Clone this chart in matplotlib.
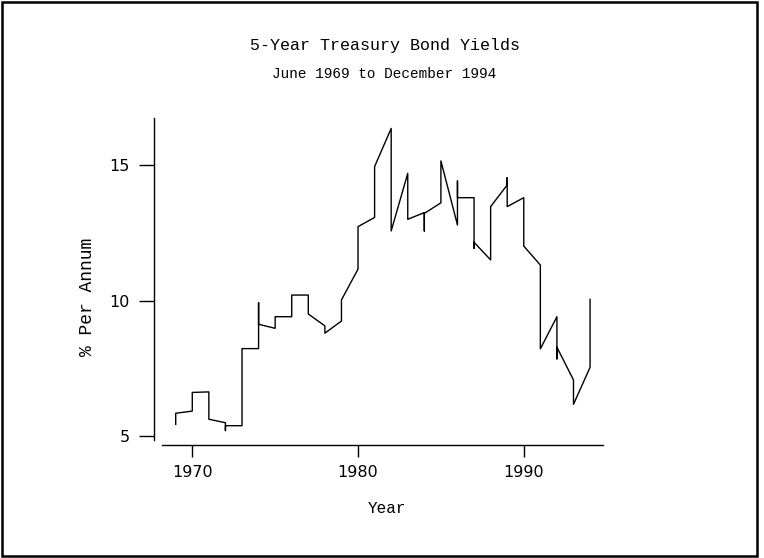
import matplotlib
matplotlib.use("Agg")
import matplotlib.pyplot as plt
from matplotlib.patches import Rectangle

# 5-year treasury yields, several readings per year (first, extremes, last)
years = [1969, 1969,
         1970, 1970,
         1971, 1971,
         1972, 1972, 1972,
         1973, 1973,
         1974, 1974, 1974,
         1975, 1975,
         1976, 1976,
         1977, 1977,
         1978, 1978,
         1979, 1979,
         1980, 1980,
         1981, 1981,
         1982, 1982,
         1983, 1983,
         1984, 1984, 1984,
         1985, 1985,
         1986, 1986, 1986,
         1987, 1987, 1987,
         1988, 1988,
         1989, 1989, 1989,
         1990, 1990,
         1991, 1991,
         1992, 1992, 1992,
         1993, 1993,
         1994, 1994]
yields = [5.43, 5.84,
          5.92, 6.61,
          6.63, 5.62,
          5.49, 5.20, 5.38,
          5.38, 8.23,
          8.23, 9.93, 9.13,
          8.98, 9.41,
          9.41, 10.21,
          10.21, 9.51,
          9.07, 8.80,
          9.25, 10.03,
          11.17, 12.74,
          13.08, 14.96,
          16.37, 12.58,
          14.71, 13.01,
          13.26, 12.58, 13.23,
          13.62, 15.17,
          12.80, 14.43, 13.81,
          13.81, 11.94, 12.16,
          11.51, 13.48,
          14.28, 14.55, 13.48,
          13.81, 12.02,
          11.32, 8.22,
          9.41, 7.85, 8.28,
          7.07, 6.17,
          7.54, 10.05]

x_ticks = [1970, 1980, 1990]
y_ticks = [5, 10, 15]

fig = plt.figure(figsize=(7.64, 5.58), dpi=100)
ax = fig.add_axes([0.2020, 0.2115, 0.5877, 0.5765])

ax.plot(years, yields, color="black", lw=1.0)

ax.set_xlim(1967.71, 1994.80)
ax.set_ylim(4.852, 16.745)

for s in ["top", "right"]:
    ax.spines[s].set_visible(False)
ax.spines["bottom"].set_position(("outward", 3.4))
ax.spines["bottom"].set_bounds(1968.17, 1994.80)
ax.spines["left"].set_linewidth(1.0)
ax.spines["bottom"].set_linewidth(1.0)

ax.set_xticks(x_ticks)
ax.set_xticklabels([str(v) for v in x_ticks])
ax.set_yticks(y_ticks)
ax.set_yticklabels([str(v) for v in y_ticks])
ax.tick_params(axis="x", direction="out", length=8.9, width=1.0, pad=6,
               labelsize=11.5, colors="black")
ax.tick_params(axis="y", direction="out", length=10.8, width=1.0, pad=7,
               labelsize=11.5, colors="black")

fig.text(0.504, 0.9176, "5-Year Treasury Bond Yields", ha="center", va="center",
         family="Liberation Mono", fontsize=12)
fig.text(0.503, 0.867, "June 1969 to December 1994", ha="center", va="center",
         family="Liberation Mono", fontsize=10.4)
fig.text(0.506, 0.0896, "Year", ha="center", va="center",
         family="Liberation Mono", fontsize=11.5)
fig.text(0.1145, 0.468, "% Per Annum", ha="center", va="center", rotation=90,
         family="Liberation Mono", fontsize=13)

# frame around the whole picture
fig.patches.append(Rectangle((0.0025, 0.003), 0.9885, 0.993, transform=fig.transFigure,
                             fill=False, edgecolor="black", lw=1.8))

fig.savefig("out.png", dpi=100)
